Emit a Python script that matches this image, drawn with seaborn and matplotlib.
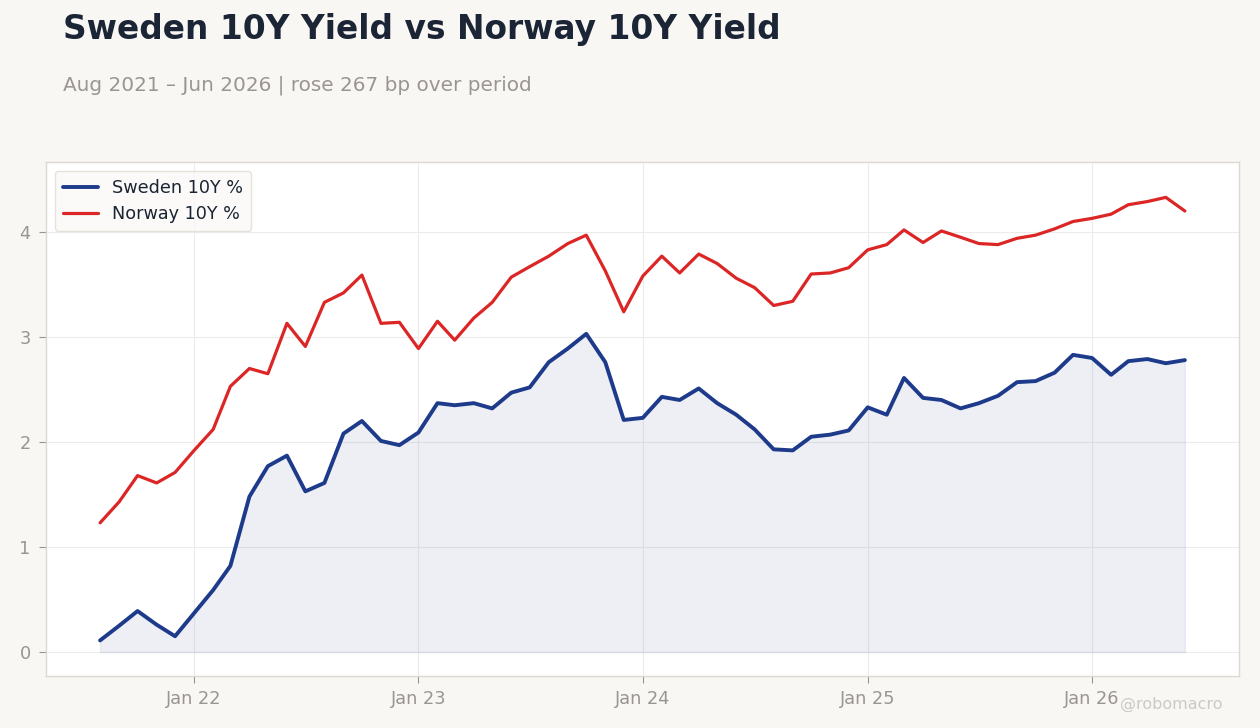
import pandas as pd
import numpy as np
import matplotlib
matplotlib.use('Agg')
import matplotlib.pyplot as plt
import matplotlib.dates as mdates
import seaborn as sns

# Data (monthly, Aug 2021 - Jun 2026)
dates = pd.date_range('2021-08-01', '2026-06-01', freq='MS')
sweden = [0.11, 0.25, 0.39, 0.26, 0.15,
          0.37, 0.59, 0.82, 1.48, 1.77, 1.87, 1.53, 1.61, 2.08, 2.20, 2.01, 1.97,
          2.09, 2.37, 2.35, 2.37, 2.32, 2.47, 2.52, 2.76, 2.89, 3.03, 2.76, 2.21,
          2.23, 2.43, 2.40, 2.51, 2.37, 2.26, 2.12, 1.93, 1.92, 2.05, 2.07, 2.11,
          2.33, 2.26, 2.61, 2.42, 2.40, 2.32, 2.37, 2.44, 2.57, 2.58, 2.66, 2.83,
          2.80, 2.64, 2.77, 2.79, 2.75, 2.78]
norway = [1.23, 1.43, 1.68, 1.61, 1.71,
          1.92, 2.12, 2.53, 2.70, 2.65, 3.13, 2.91, 3.33, 3.42, 3.59, 3.13, 3.14,
          2.89, 3.15, 2.97, 3.18, 3.33, 3.57, 3.67, 3.77, 3.89, 3.97, 3.63, 3.24,
          3.58, 3.77, 3.61, 3.79, 3.70, 3.56, 3.47, 3.30, 3.34, 3.60, 3.61, 3.66,
          3.83, 3.88, 4.02, 3.90, 4.01, 3.95, 3.89, 3.88, 3.94, 3.97, 4.03, 4.10,
          4.13, 4.17, 4.26, 4.29, 4.33, 4.20]
series_names = ['Sweden 10Y %', 'Norway 10Y %']

df = pd.DataFrame({'date': dates, series_names[0]: sweden, series_names[1]: norway})
long = df.melt(id_vars='date', var_name='series', value_name='value')

BG = '#f8f7f4'
BLUE = '#1e3a8a'
RED = '#dc2626'
GRID = '#ececec'
SPINE = '#ddd8d0'
MUTED = '#9a9590'

sns.set_style('white')
plt.rcParams['font.family'] = ['DejaVu Sans']

fig = plt.figure(figsize=(12.6, 7.28), dpi=100, facecolor=BG)
ax = fig.add_axes([0.0365, 0.0714, 0.9468, 0.7061])
ax.set_facecolor('white')

sns.lineplot(data=long, x='date', y='value', hue='series',
             palette={series_names[0]: BLUE, series_names[1]: RED},
             linewidth=2.4, ax=ax)
widths = {series_names[0]: 2.8, series_names[1]: 2.3}
for line, name in zip(ax.lines[:2], series_names):
    line.set_linewidth(widths[name])
ax.fill_between(df['date'], 0, df[series_names[0]], color=BLUE, alpha=0.08,
                linewidth=1.0, edgecolor=(0.12, 0.23, 0.54, 0.12))

# axes styling
ax.set_xlim(mdates.date2num(dates[0]) - 88, mdates.date2num(dates[-1]) + 88)
ax.set_ylim(-0.229, 4.667)
ax.set_xlabel('')
ax.set_ylabel('')
ax.xaxis.set_major_locator(mdates.YearLocator(month=1))
ax.xaxis.set_major_formatter(mdates.DateFormatter('Jan %y'))
ax.set_yticks([0, 1, 2, 3, 4])
ax.grid(True, color=GRID, linewidth=0.8)
ax.set_axisbelow(True)
for s in ax.spines.values():
    s.set_color(SPINE)
    s.set_linewidth(1.0)
ax.tick_params(axis='both', colors=MUTED, labelsize=12.8, length=5, width=0.8,
               direction='out', bottom=True, left=True)
ax.tick_params(axis='x', pad=5)
ax.tick_params(axis='y', pad=6)

leg = ax.legend(loc='upper left', fontsize=12.7, frameon=True, handlelength=2.0,
                borderpad=0.45, labelspacing=0.45)
leg.get_frame().set_facecolor('#faf9f7')
leg.get_frame().set_edgecolor('#e0dcd5')
for t in leg.get_texts():
    t.set_color('#1a2433')
for h, name in zip(leg.get_lines(), series_names):
    h.set_linewidth(widths[name])

# titles
fig.text(0.05, 0.96, 'Sweden 10Y Yield vs Norway 10Y Yield', fontsize=23.7,
         fontweight='bold', color='#1c2536', va='center', ha='left')
fig.text(0.05, 0.883, 'Aug 2021 \u2013 Jun 2026 | rose 267 bp over period',
         fontsize=14.4, color=MUTED, va='center', ha='left')
fig.text(0.97, 0.032, '@robomacro', fontsize=11.5, color='#cdc9c3',
         va='center', ha='right')

fig.savefig('out.png', dpi=100, facecolor=BG)
plt.close(fig)
